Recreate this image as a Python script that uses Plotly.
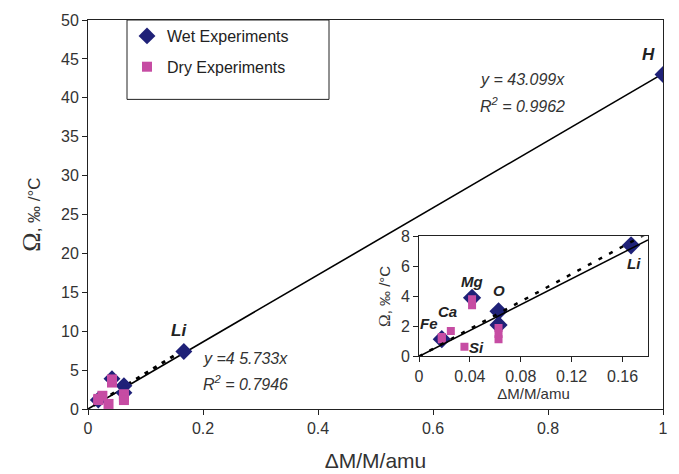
import plotly.graph_objects as go

# ---- data ----
wet_x = [1.0, 0.1667, 0.0417, 0.0625, 0.0625, 0.0179]
wet_y = [43.0, 7.4, 3.9, 3.0, 2.1, 1.15]
dry_x = [0.0179, 0.0179, 0.025, 0.0357, 0.0417, 0.0417, 0.0625, 0.0625, 0.0625]
dry_y = [1.3, 1.15, 1.7, 0.65, 3.8, 3.4, 1.9, 1.5, 1.15]
slope_all = 43.099
slope_light = 45.733
fit_all_x = [0.0, 1.0]
fit_light_x = [0.01, 0.17]
inset_fit_x = [0.0, 0.18]
main_x_ticks = [0, 0.2, 0.4, 0.6, 0.8, 1]
main_x_labels = ["0", "0.2", "0.4", "0.6", "0.8", "1"]
main_y_ticks = list(range(0, 55, 5))
inset_x_ticks = [0, 0.04, 0.08, 0.12, 0.16]
inset_x_labels = ["0", "0.04", "0.08", "0.12", "0.16"]
inset_y_ticks = [0, 2, 4, 6, 8]

NAVY = "#1f2178"
PINK = "#c64ca3"
TXT = "#333333"
FONT = "Liberation Sans, Arial, sans-serif"

fig = go.Figure()

# main panel
fig.add_trace(go.Scatter(x=fit_all_x, y=[slope_all * v for v in fit_all_x], mode="lines",
                         line=dict(color="black", width=1.6), showlegend=False,
                         xaxis="x", yaxis="y", hoverinfo="skip"))
fig.add_trace(go.Scatter(x=fit_light_x, y=[slope_light * v for v in fit_light_x], mode="lines",
                         line=dict(color="black", width=3, dash="4px,6px"), showlegend=False,
                         xaxis="x", yaxis="y", hoverinfo="skip"))
fig.add_trace(go.Scatter(x=wet_x, y=wet_y, mode="markers", name="Wet Experiments",
                         marker=dict(symbol="diamond", size=13, color=NAVY),
                         legendgroup="w", xaxis="x", yaxis="y"))
fig.add_trace(go.Scatter(x=dry_x, y=dry_y, mode="markers", name="Dry Experiments",
                         marker=dict(symbol="square", size=10, color=PINK),
                         legendgroup="d", xaxis="x", yaxis="y"))

# inset panel
fig.add_trace(go.Scatter(x=wet_x, y=wet_y, mode="markers", showlegend=False,
                         marker=dict(symbol="diamond", size=14, color=NAVY),
                         xaxis="x2", yaxis="y2"))
fig.add_trace(go.Scatter(x=dry_x, y=dry_y, mode="markers", showlegend=False,
                         marker=dict(symbol="square", size=8, color=PINK),
                         xaxis="x2", yaxis="y2"))
fig.add_trace(go.Scatter(x=inset_fit_x, y=[slope_all * v for v in inset_fit_x], mode="lines",
                         line=dict(color="black", width=1.5), showlegend=False,
                         xaxis="x2", yaxis="y2", hoverinfo="skip"))
fig.add_trace(go.Scatter(x=inset_fit_x, y=[slope_light * v for v in inset_fit_x], mode="lines",
                         line=dict(color="black", width=2.5, dash="4px,8px"), showlegend=False,
                         xaxis="x2", yaxis="y2", hoverinfo="skip"))

ax_common = dict(showgrid=False, zeroline=False, showline=True, linecolor="#222222",
                 linewidth=1, mirror=True, ticks="outside", ticklen=5, tickcolor="#222222")

omega_title = ("<span style='font-family:Liberation Serif, Times New Roman, serif;font-size:26px'>Ω</span>"
               "<span style='font-size:17px'>, ‰ /°C</span>")
omega_title_small = ("<span style='font-family:Liberation Serif, Times New Roman, serif;font-size:17px'>Ω</span>"
                     "<span style='font-size:15px'>, ‰ /°C</span>")

fig.update_layout(
    width=679, height=474,
    margin=dict(l=88, r=16, t=17, b=65),
    paper_bgcolor="white", plot_bgcolor="white",
    font=dict(family=FONT, color=TXT),
    xaxis=dict(range=[0, 1], tickvals=main_x_ticks, ticktext=main_x_labels,
               tickfont=dict(size=16, color=TXT), automargin=False,
               title=dict(text="ΔM/M/amu", font=dict(size=21, color=TXT), standoff=17),
               **ax_common),
    yaxis=dict(range=[0, 50], tickvals=main_y_ticks, tickfont=dict(size=16, color=TXT),
               automargin=False,
               title=dict(text=omega_title, font=dict(size=17, color=TXT), standoff=16),
               **ax_common),
    xaxis2=dict(domain=[0.5757, 0.9739], anchor="y2", range=[0, 0.18],
                tickvals=inset_x_ticks, ticktext=inset_x_labels,
                tickfont=dict(size=16, color=TXT),
                title=dict(text="ΔM/M/amu", font=dict(size=15, color=TXT), standoff=4),
                **ax_common),
    yaxis2=dict(domain=[0.1352, 0.4439], anchor="x2", range=[0, 8],
                tickvals=inset_y_ticks, tickfont=dict(size=16, color=TXT),
                title=dict(text=omega_title_small, font=dict(size=15, color=TXT), standoff=6),
                **ax_common),
    legend=dict(x=(127 - 88) / 575, y=1 + 1 / 392, xanchor="left", yanchor="top",
                bgcolor="rgba(0,0,0,0)", borderwidth=0,
                font=dict(size=16, color="#222222"), tracegroupgap=7, itemwidth=30),
    showlegend=True,
)

# legend box
fig.add_shape(type="rect", xref="paper", yref="paper",
              x0=(127 - 88) / 575, x1=(329 - 88) / 575,
              y0=1 - (97 - 17) / 392, y1=1.0,
              line=dict(color="#222222", width=1), fillcolor="rgba(0,0,0,0)")

def lab(text, x, y, xref, yref, size=15, italic=True, bold=False, xanchor="center"):
    t = text
    if bold:
        t = "<b>" + t + "</b>"
    if italic:
        t = "<i>" + t + "</i>"
    fig.add_annotation(text=t, x=x, y=y, xref=xref, yref=yref, showarrow=False,
                       xanchor=xanchor, yanchor="middle",
                       font=dict(size=size, color="#222222" if bold else TXT, family=FONT))

# main labels
lab("H", 0.975, 45.6, "x", "y", size=17, bold=True)
lab("Li", 0.158, 10.1, "x", "y", size=17, bold=True)
lab("y = 43.099x", 0.678, 42.3, "x", "y", size=16, xanchor="left")
lab("R<sup>2</sup> = 0.9962", 0.678, 39.1, "x", "y", size=16, xanchor="left")
lab("y =4 5.733x", 0.196, 6.5, "x", "y", size=16, xanchor="left")
lab("R<sup>2</sup> = 0.7946", 0.196, 3.3, "x", "y", size=16, xanchor="left")

# inset labels
lab("Mg", 0.0415, 5.0, "x2", "y2", size=15, bold=True)
lab("O", 0.0625, 4.4, "x2", "y2", size=15, bold=True)
lab("Fe", 0.0075, 2.2, "x2", "y2", size=15, bold=True)
lab("Ca", 0.022, 3.0, "x2", "y2", size=15, bold=True)
lab("Si", 0.0455, 0.6, "x2", "y2", size=15, bold=True)
lab("Li", 0.169, 6.2, "x2", "y2", size=15, bold=True)

fig.write_html("out.html")
